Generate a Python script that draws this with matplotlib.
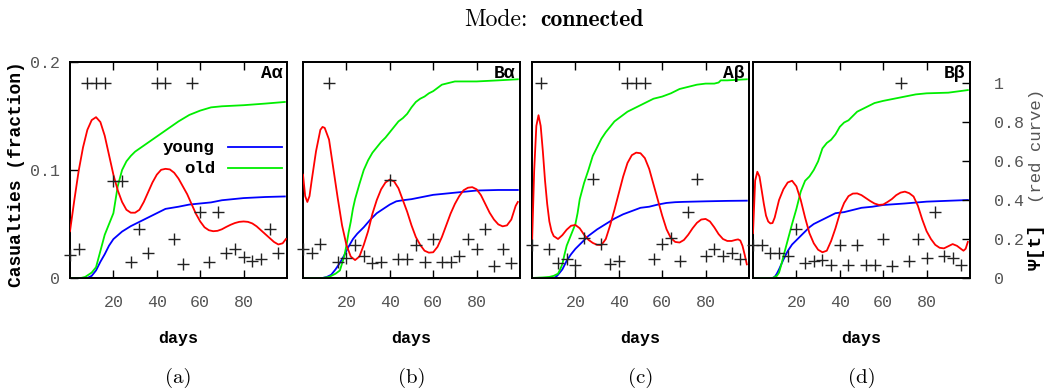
import matplotlib
matplotlib.use('Agg')
import matplotlib.pyplot as plt

plt.rcParams['mathtext.fontset'] = 'cm'
mono = ['Liberation Mono', 'DejaVu Sans Mono']

# ---- data ----
cross_days = [0, 4, 8, 12, 16, 20, 24, 28, 32, 36, 40, 44, 48, 52, 56, 60, 64, 68, 72, 76, 80, 84, 88, 92, 96]

# panel A alpha
a_old_t = [0, 5, 7, 10, 12, 14, 16, 18, 20, 22, 24, 26, 28, 30, 35, 40, 45, 50, 55, 60, 65, 70, 80, 90, 99]
a_old = [0, 0, 0.001, 0.005, 0.01, 0.025, 0.04, 0.05, 0.06, 0.085, 0.1, 0.108, 0.113, 0.117, 0.124, 0.131,
         0.138, 0.145, 0.151, 0.155, 0.158, 0.159, 0.160, 0.1615, 0.163]
a_young_t = [0, 8, 10, 12, 14, 16, 18, 20, 24, 28, 32, 36, 40, 44, 50, 55, 60, 65, 70, 80, 90, 99]
a_young = [0, 0, 0.002, 0.007, 0.015, 0.022, 0.03, 0.036, 0.043, 0.048, 0.052, 0.056, 0.06, 0.064, 0.066,
           0.068, 0.069, 0.07, 0.072, 0.074, 0.075, 0.0755]
a_psi_t = [0, 2, 4, 6, 8, 10, 12, 14, 16, 18, 20, 22, 24, 26, 28, 30, 32, 34, 36, 38, 40, 42, 44, 46, 48, 50,
           52, 54, 56, 58, 60, 62, 64, 66, 68, 70, 72, 74, 76, 78, 80, 82, 84, 86, 88, 90, 92, 94, 96, 98, 99.5]
a_psi = [0.24, 0.4, 0.55, 0.67, 0.76, 0.81, 0.825, 0.8, 0.73, 0.63, 0.53, 0.45, 0.39, 0.35, 0.335, 0.335, 0.35,
         0.39, 0.44, 0.49, 0.53, 0.555, 0.56, 0.557, 0.54, 0.51, 0.47, 0.43, 0.38, 0.33, 0.29, 0.26, 0.245, 0.24,
         0.242, 0.25, 0.262, 0.273, 0.282, 0.288, 0.29, 0.288, 0.28, 0.265, 0.245, 0.225, 0.205, 0.185, 0.172,
         0.178, 0.2]
a_cross = [0.12, 0.15, 1.0, 1.0, 1.0, 0.5, 0.5, 0.08, 0.25, 0.13, 1.0, 1.0, 0.2, 0.07, 1.0, 0.34, 0.08, 0.34,
           0.13, 0.15, 0.11, 0.085, 0.095, 0.25, 0.13]

# panel B alpha
b_old_t = [0, 9, 12, 15, 17, 19, 20, 21, 22, 23, 24, 26, 28, 30, 32, 34, 36, 38, 40, 42, 44, 46, 48, 50, 52,
           54, 56, 58, 60, 62, 64, 66, 68, 70, 80, 90, 99]
b_old = [0, 0, 0.001, 0.004, 0.007, 0.02, 0.03, 0.042, 0.052, 0.064, 0.073, 0.087, 0.1, 0.109, 0.116, 0.121,
         0.126, 0.13, 0.135, 0.14, 0.145, 0.148, 0.152, 0.158, 0.163, 0.166, 0.168, 0.171, 0.173, 0.176, 0.179,
         0.18, 0.181, 0.182, 0.182, 0.183, 0.184]
b_young_t = [0, 9, 11, 13, 15, 17, 19, 21, 23, 25, 28, 31, 34, 37, 40, 43, 46, 50, 55, 60, 65, 70, 75, 80, 90, 99]
b_young = [0, 0, 0.001, 0.003, 0.008, 0.014, 0.021, 0.029, 0.036, 0.041, 0.047, 0.054, 0.06, 0.064, 0.068,
           0.071, 0.072, 0.073, 0.075, 0.077, 0.078, 0.079, 0.080, 0.081, 0.0815, 0.0815]
b_psi_t = [0, 1, 2, 3, 4, 6, 8, 9, 10, 12, 14, 16, 18, 20, 22, 24, 26, 28, 30, 32, 34, 36, 38, 40, 42, 44, 46,
           48, 50, 52, 54, 56, 58, 60, 62, 64, 66, 68, 70, 72, 74, 76, 78, 80, 82, 84, 86, 88, 90, 92, 94, 96,
           98, 99]
b_psi = [0.53, 0.42, 0.39, 0.42, 0.5, 0.65, 0.76, 0.775, 0.77, 0.71, 0.56, 0.41, 0.27, 0.17, 0.11, 0.092, 0.11,
         0.17, 0.24, 0.33, 0.4, 0.455, 0.49, 0.505, 0.495, 0.46, 0.4, 0.34, 0.27, 0.21, 0.17, 0.14, 0.13, 0.132,
         0.16, 0.21, 0.27, 0.33, 0.38, 0.42, 0.45, 0.463, 0.466, 0.455, 0.425, 0.38, 0.335, 0.3, 0.275, 0.265,
         0.27, 0.3, 0.37, 0.39]
b_cross = [0.147, 0.127, 0.173, 1.0, 0.08, 0.101, 0.169, 0.113, 0.075, 0.08, 0.503, 0.096, 0.099, 0.169, 0.08,
           0.202, 0.08, 0.08, 0.113, 0.202, 0.147, 0.253, 0.062, 0.147, 0.075]

# panel A beta
c_old_t = [0, 5, 8, 10, 12, 13, 14, 15, 16, 18, 20, 21, 22, 24, 26, 28, 30, 32, 34, 36, 38, 40, 44, 48, 52,
           56, 60, 64, 68, 72, 76, 80, 84, 86, 87, 90, 99]
c_old = [0, 0.0005, 0.001, 0.002, 0.004, 0.008, 0.013, 0.022, 0.03, 0.04, 0.05, 0.06, 0.073, 0.088, 0.1, 0.113,
         0.121, 0.129, 0.135, 0.14, 0.145, 0.148, 0.154, 0.158, 0.162, 0.166, 0.168, 0.171, 0.175, 0.177, 0.179,
         0.18, 0.18, 0.181, 0.183, 0.183, 0.184]
c_young_t = [0, 10, 11, 12, 14, 16, 18, 20, 23, 26, 30, 34, 38, 42, 46, 50, 54, 58, 62, 66, 70, 80, 90, 99]
c_young = [0, 0, 0.001, 0.003, 0.008, 0.016, 0.022, 0.027, 0.033, 0.039, 0.045, 0.05, 0.055, 0.059, 0.062,
           0.065, 0.066, 0.068, 0.0695, 0.0702, 0.0705, 0.071, 0.0714, 0.0716]
c_psi_t = [0, 1, 2, 3, 4, 5, 6, 7, 8, 9, 10, 12, 14, 16, 18, 20, 22, 24, 26, 28, 30, 32, 34, 36, 38, 40, 42,
           44, 46, 48, 50, 52, 54, 56, 58, 60, 62, 64, 66, 68, 70, 72, 74, 76, 78, 80, 82, 84, 86, 88, 90, 92,
           94, 95, 96, 97, 98, 99]
c_psi = [0.17, 0.55, 0.78, 0.835, 0.78, 0.65, 0.5, 0.38, 0.29, 0.24, 0.215, 0.2, 0.22, 0.248, 0.268, 0.272,
         0.255, 0.222, 0.196, 0.18, 0.17, 0.169, 0.2, 0.27, 0.35, 0.435, 0.52, 0.59, 0.63, 0.643, 0.64, 0.615,
         0.56, 0.48, 0.4, 0.32, 0.25, 0.205, 0.185, 0.182, 0.195, 0.222, 0.255, 0.283, 0.3, 0.303, 0.29, 0.26,
         0.225, 0.2, 0.19, 0.19, 0.196, 0.198, 0.192, 0.165, 0.12, 0.07]
c_cross = [0.169, 1.0, 0.147, 0.079, 0.1, 0.067, 0.207, 0.506, 0.174, 0.07, 0.089, 1.0, 1.0, 1.0, 0.1, 0.174,
           0.203, 0.089, 0.338, 0.506, 0.113, 0.147, 0.113, 0.13, 0.096]

# panel B beta
d_old_t = [0, 9, 11, 12, 13, 14, 16, 18, 20, 22, 24, 26, 28, 30, 32, 34, 36, 38, 40, 42, 44, 46, 48, 50, 52,
           56, 60, 65, 70, 75, 80, 90, 99]
d_old = [0, 0, 0.002, 0.005, 0.012, 0.02, 0.035, 0.05, 0.064, 0.08, 0.09, 0.094, 0.1, 0.108, 0.12, 0.125,
         0.128, 0.133, 0.14, 0.144, 0.146, 0.15, 0.154, 0.156, 0.158, 0.162, 0.164, 0.166, 0.168, 0.17, 0.171,
         0.1716, 0.174]
d_young_t = [0, 9, 10, 11, 12, 14, 16, 18, 20, 22, 24, 26, 28, 30, 32, 35, 38, 42, 46, 50, 55, 60, 70, 80, 90, 99]
d_young = [0, 0, 0.001, 0.004, 0.008, 0.017, 0.025, 0.031, 0.035, 0.039, 0.043, 0.047, 0.05, 0.052, 0.054,
           0.057, 0.06, 0.061, 0.063, 0.065, 0.066, 0.0676, 0.069, 0.0707, 0.0715, 0.0722]
d_psi_t = [0, 1, 2, 3, 4, 5, 6, 7, 8, 9, 10, 12, 14, 16, 18, 20, 22, 24, 26, 28, 30, 32, 34, 36, 38, 40, 42,
           44, 46, 48, 50, 52, 54, 56, 58, 60, 62, 64, 66, 68, 70, 72, 74, 76, 78, 80, 82, 84, 86, 88, 90, 92,
           94, 96, 97, 98, 99]
d_psi = [0.23, 0.5, 0.545, 0.52, 0.45, 0.38, 0.32, 0.29, 0.28, 0.282, 0.31, 0.4, 0.455, 0.49, 0.499, 0.47,
         0.4, 0.31, 0.23, 0.178, 0.145, 0.132, 0.14, 0.19, 0.255, 0.33, 0.385, 0.42, 0.433, 0.434, 0.425, 0.41,
         0.395, 0.382, 0.375, 0.377, 0.39, 0.405, 0.425, 0.438, 0.443, 0.435, 0.418, 0.37, 0.3, 0.24, 0.2, 0.17,
         0.155, 0.152, 0.163, 0.174, 0.165, 0.148, 0.14, 0.15, 0.185]
d_cross = [0.169, 0.169, 0.126, 0.126, 0.113, 0.253, 0.075, 0.089, 0.092, 0.068, 0.169, 0.068, 0.169, 0.068,
           0.068, 0.202, 0.062, 1.0, 0.085, 0.202, 0.103, 0.337, 0.113, 0.103, 0.067]

panel_names = ['A\u03b1', 'B\u03b1', 'A\u03b2', 'B\u03b2']
sub_labels = ['(a)', '(b)', '(c)', '(d)']
x_ticks = [20, 40, 60, 80]
left_ticks = [0, 0.1, 0.2]
left_ticklabels = ['0', '0.1', '0.2']
right_ticks = [0, 0.2, 0.4, 0.6, 0.8, 1]
right_ticklabels = ['0', '0.2', '0.4', '0.6', '0.8', '1']

panels = [
    (a_old_t, a_old, a_young_t, a_young, a_psi_t, a_psi, a_cross),
    (b_old_t, b_old, b_young_t, b_young, b_psi_t, b_psi, b_cross),
    (c_old_t, c_old, c_young_t, c_young, c_psi_t, c_psi, c_cross),
    (d_old_t, d_old, d_young_t, d_young, d_psi_t, d_psi, d_cross),
]

W, H = 1046, 390
fig = plt.figure(figsize=(W / 100, H / 100), dpi=100)

lefts = [70, 303, 532, 753]
pw, top, bot = 217, 62, 278
grey = '#555555'

for i, (ot, ov, yt, yv, pt, pv, cv) in enumerate(panels):
    ax = fig.add_axes([lefts[i] / W, 1 - bot / H, pw / W, (bot - top) / H])
    ax.set_xlim(0, 100)
    ax.set_ylim(0, 0.2)
    ax.plot(yt, yv, color='#0000ff', lw=1.3, zorder=3)
    ax.plot(ot, ov, color='#00ee00', lw=1.3, zorder=3)
    ax.set_xticks(x_ticks)
    ax.set_xticklabels([str(t) for t in x_ticks], family=mono, fontsize=12, color=grey)
    ax.tick_params(axis='x', direction='in', top=True, length=6, width=1, pad=12)
    if i == 0:
        ax.set_yticks(left_ticks)
        ax.set_yticklabels(left_ticklabels, family=mono, fontsize=12, color=grey)
        ax.tick_params(axis='y', direction='in', length=6, width=1, pad=7)
    else:
        ax.set_yticks([])
    for s in ax.spines.values():
        s.set_linewidth(1.3)

    ax2 = ax.twinx()
    ax2.set_ylim(0, 1.108)
    ax2.plot(pt, pv, color='#ff0000', lw=1.3, zorder=4)
    ax2.plot(cross_days, cv, linestyle='none', marker='+', ms=8, mew=1.0, color='#222222',
             clip_on=False, zorder=5)
    if i == 3:
        ax2.set_yticks(right_ticks)
        ax2.set_yticklabels(right_ticklabels, family=mono, fontsize=12, color=grey)
        ax2.tick_params(axis='y', direction='in', length=6, width=1, pad=17)
    else:
        ax2.set_yticks([])
    for s in ax2.spines.values():
        s.set_linewidth(1.3)

    ax.text(0.977, 0.945, panel_names[i], transform=ax.transAxes, ha='right', va='center',
            family=mono, fontweight='bold', fontsize=13, zorder=6)

    cx = (lefts[i] + pw / 2) / W
    fig.text(cx, 1 - 338 / H, 'days', ha='center', va='center', family=mono, fontweight='bold', fontsize=12)
    fig.text(cx, 1 - 378 / H, sub_labels[i], ha='center', va='center', family='cmr10', fontsize=15)

    if i == 0:
        ax.text(0.668, 0.606, 'young', transform=ax.transAxes, ha='right', va='center',
                family=mono, fontweight='bold', fontsize=12.5)
        ax.plot([0.728, 0.977], [0.606, 0.606], transform=ax.transAxes, color='#0000ff', lw=1.3)
        ax.text(0.668, 0.509, 'old', transform=ax.transAxes, ha='right', va='center',
                family=mono, fontweight='bold', fontsize=12.5)
        ax.plot([0.728, 0.977], [0.509, 0.509], transform=ax.transAxes, color='#00ee00', lw=1.3)

fig.text(17 / W, 1 - 174 / H, 'Casualties (fraction)', rotation=90, ha='center', va='center',
         family=mono, fontweight='bold', fontsize=13)
fig.text(1036 / W, 1 - 270 / H, '\u03a8[t]', rotation=90, ha='center', va='bottom',
         family=mono, fontweight='bold', fontsize=14)
fig.text(1036 / W, 1 - 89 / H, '(red curve)', rotation=90, ha='center', va='top',
         family=mono, fontsize=12.5, color=grey)

fig.text(528 / W, 1 - 20 / H, 'Mode:', ha='right', va='center', family='cmr10', fontsize=17)
fig.text(540 / W, 1 - 20 / H, 'connected', ha='left', va='center', family='cmb10', fontsize=17)

fig.savefig('out.png', dpi=100)
